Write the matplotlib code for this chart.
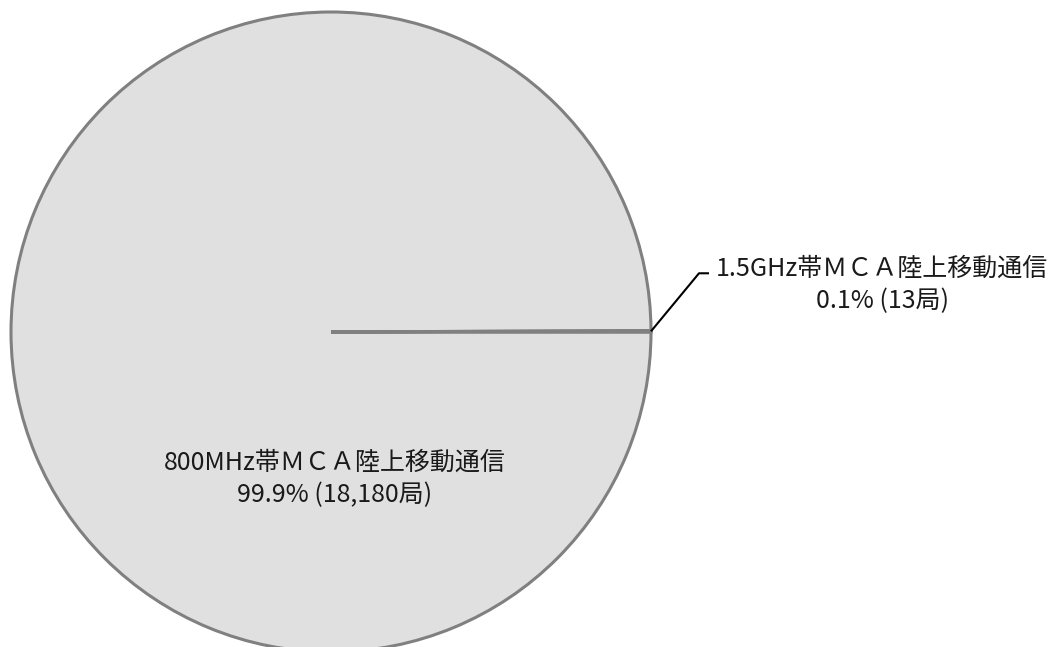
import numpy as np
import matplotlib.pyplot as plt

plt.rcParams['font.family'] = ['Noto Sans CJK JP', 'DejaVu Sans']

# 無線局数（システム別）
systems = ['800MHz帯ＭＣＡ陸上移動通信', '1.5GHz帯ＭＣＡ陸上移動通信']
stations = [18180, 13]

fill = '#e0e0e0'
edge = '#808080'

fig = plt.figure(figsize=(10.55, 6.47), dpi=100)
ax = fig.add_axes([0, 0, 1, 1])

# work in pixel-like units so the pie sits where it should
cx, cy, r = 331, 315, 320
wedges, _ = ax.pie(stations, startangle=0, counterclock=False,
                   center=(cx, cy), radius=r, colors=[fill, fill],
                   wedgeprops=dict(edgecolor=edge, linewidth=2.2))
ax.set_xlim(0, 1055)
ax.set_ylim(0, 647)
ax.set_aspect('equal')
ax.axis('off')

total = sum(stations)


def label(i):
    pct = stations[i] / total * 100
    return f'{systems[i]}\n{pct:.1f}% ({stations[i]:,}局)'


txt = dict(fontsize=18, color='#1a1a1a', ha='center', va='center',
           linespacing=1.3)

# big slice: label inside
ax.text(335, 168, label(0), **txt)

# small slice: label outside with an elbow leader
w = wedges[1]
mid = np.deg2rad((w.theta1 + w.theta2) / 2)
px, py = cx + r * np.cos(mid), cy + r * np.sin(mid)
ex, ey = px + 48, py + 58
ax.plot([px, ex, ex + 10], [py, ey, ey], color='black', lw=1.5,
        solid_capstyle='butt')
ax.text(882, 362, label(1), **txt)

fig.savefig('out.png', dpi=100)
